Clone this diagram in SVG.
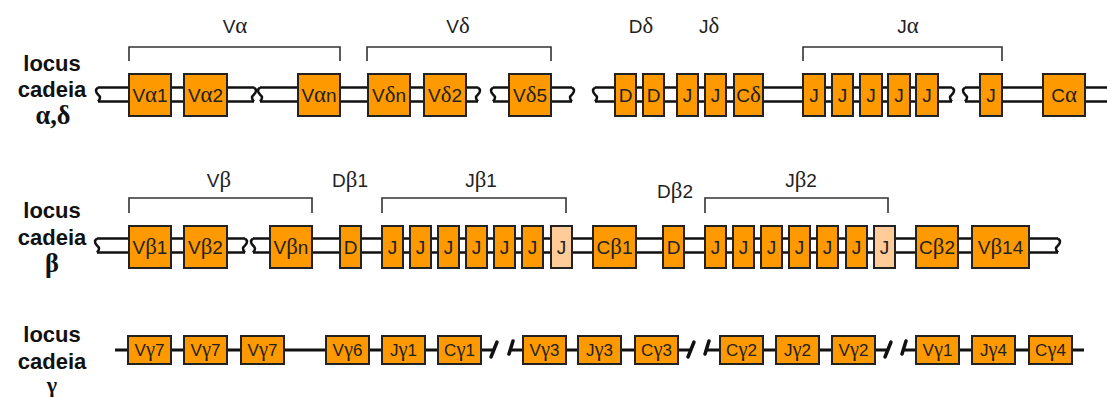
<svg xmlns="http://www.w3.org/2000/svg" width="1107" height="398" viewBox="0 0 1107 398">
  <style>
    .box { fill: #FF9900; stroke: #222; stroke-width: 2; }
    .lt { fill: #FFCC99; }
    .bt { font-family: "Liberation Sans", Arial, sans-serif; font-size: 19px; fill: #222; text-anchor: middle; }
    .st { font-family: "Liberation Sans", Arial, sans-serif; font-size: 17px; fill: #222; text-anchor: middle; }
    .g { font-family: "Liberation Serif", "Times New Roman", serif; font-size: 1.2em; }
    .gs { font-family: "Liberation Serif", "Times New Roman", serif; }
    .lab { font-family: "Liberation Sans", Arial, sans-serif; font-size: 19px; fill: #222; text-anchor: middle; }
    .side { font-family: "Liberation Sans", Arial, sans-serif; font-size: 22px; font-weight: bold; fill: #111; text-anchor: middle; }
    .dna { stroke: #111; stroke-width: 2.5; fill: none; }
    .sq { stroke: #111; stroke-width: 2.5; fill: none; stroke-linejoin: round; }
    .one { stroke: #111; stroke-width: 3; fill: none; }
    .cut { stroke: #111; stroke-width: 3.5; fill: none; stroke-linecap: round; }
    .brk { stroke: #333; stroke-width: 1.6; fill: none; }
  </style>

  <!-- side labels -->
  <g id="label-ad">
    <text class="side" x="52" y="71">locus</text>
    <text class="side" x="52" y="97">cadeia</text>
    <text class="side" x="53" y="124"><tspan class="g">α,δ</tspan></text>
  </g>
  <g id="label-b">
    <text class="side" x="52" y="218">locus</text>
    <text class="side" x="52" y="245">cadeia</text>
    <text class="side" x="52" y="272"><tspan class="g">β</tspan></text>
  </g>
  <g id="label-g">
    <text class="side" x="52" y="342">locus</text>
    <text class="side" x="52" y="369">cadeia</text>
    <text class="side" x="52" y="392"><tspan class="gs">γ</tspan></text>
  </g>

  <!-- segment group labels -->
  <g id="group-labels">
    <text class="lab" x="235" y="33">V<tspan class="g">α</tspan></text>
    <text class="lab" x="458" y="33">V<tspan class="g">δ</tspan></text>
    <text class="lab" x="641" y="33">D<tspan class="g">δ</tspan></text>
    <text class="lab" x="709" y="33">J<tspan class="g">δ</tspan></text>
    <text class="lab" x="908" y="33">J<tspan class="g">α</tspan></text>
    <text class="lab" x="219" y="187">V<tspan class="g">β</tspan></text>
    <text class="lab" x="350" y="187">D<tspan class="g">β</tspan>1</text>
    <text class="lab" x="481" y="187">J<tspan class="g">β</tspan>1</text>
    <text class="lab" x="675" y="198">D<tspan class="g">β</tspan>2</text>
    <text class="lab" x="801" y="187">J<tspan class="g">β</tspan>2</text>
  </g>

  <!-- connectors: DNA strands, breaks and brackets -->
  <g id="connectors">
    <!-- alpha/delta locus, double strand -->
    <path class="dna" d="M98,87.5 H254 M98,101.5 H254"/>
    <path class="sq" d="M98,87.5 q-4,3 0,7 q4,3 0,7"/>
    <path class="sq" d="M254,87.5 q4,3 0,7 q-4,3 0,7"/>
    <path class="dna" d="M260,87.5 H478 M260,101.5 H478"/>
    <path class="sq" d="M260,87.5 q-4,3 0,7 q4,3 0,7"/>
    <path class="sq" d="M478,87.5 q4,3 0,7 q-4,3 0,7"/>
    <path class="dna" d="M493,87.5 H572 M493,101.5 H572"/>
    <path class="sq" d="M493,87.5 q-4,3 0,7 q4,3 0,7"/>
    <path class="sq" d="M572,87.5 q4,3 0,7 q-4,3 0,7"/>
    <path class="dna" d="M595,87.5 H952 M595,101.5 H952"/>
    <path class="sq" d="M595,87.5 q-4,3 0,7 q4,3 0,7"/>
    <path class="sq" d="M952,87.5 q4,3 0,7 q-4,3 0,7"/>
    <path class="dna" d="M965,87.5 H1107 M965,101.5 H1107"/>
    <path class="sq" d="M965,87.5 q-4,3 0,7 q4,3 0,7"/>

    <!-- beta locus, double strand -->
    <path class="dna" d="M97,238.5 H245 M97,252.5 H245"/>
    <path class="sq" d="M97,238.5 q-4,3 0,7 q4,3 0,7"/>
    <path class="sq" d="M245,238.5 q4,3 0,7 q-4,3 0,7"/>
    <path class="dna" d="M253,238.5 H1058 M253,252.5 H1058"/>
    <path class="sq" d="M253,238.5 q-4,3 0,7 q4,3 0,7"/>
    <path class="sq" d="M1058,238.5 q4,3 0,7 q-4,3 0,7"/>

    <!-- gamma locus, single strand with cuts -->
    <path class="one" d="M115,350 H494"/>
    <path class="one" d="M510,350 H690"/>
    <path class="one" d="M706,350 H887"/>
    <path class="one" d="M903,350 H1084"/>
    <path class="cut" d="M491,357 L497,342"/>
    <path class="cut" d="M513,341 L509,354"/>
    <path class="cut" d="M688,357 L694,342"/>
    <path class="cut" d="M709,341 L705,354"/>
    <path class="cut" d="M885,357 L891,342"/>
    <path class="cut" d="M906,341 L902,354"/>

    <!-- brackets -->
    <path class="brk" d="M129,61 V47 H340 V61"/>
    <path class="brk" d="M367,61 V47 H551 V61"/>
    <path class="brk" d="M803,61 V47 H1002 V61"/>
    <path class="brk" d="M129,213 V198 H312 V213"/>
    <path class="brk" d="M382,213 V198 H566 V213"/>
    <path class="brk" d="M705,213 V198 H888 V213"/>
  </g>

  <!-- alpha/delta locus segments -->
  <g id="va1"><rect class="box" x="129" y="74" width="42" height="42"/><text class="bt" x="150" y="102">V<tspan class="g">α</tspan>1</text></g>
  <g id="va2"><rect class="box" x="184" y="74" width="43" height="42"/><text class="bt" x="205.5" y="102">V<tspan class="g">α</tspan>2</text></g>
  <g id="van"><rect class="box" x="298" y="74" width="42" height="42"/><text class="bt" x="319" y="102">V<tspan class="g">α</tspan>n</text></g>
  <g id="vdn"><rect class="box" x="368" y="74" width="42" height="42"/><text class="bt" x="389" y="102">V<tspan class="g">δ</tspan>n</text></g>
  <g id="vd2"><rect class="box" x="424" y="74" width="42" height="42"/><text class="bt" x="445" y="102">V<tspan class="g">δ</tspan>2</text></g>
  <g id="vd5"><rect class="box" x="509" y="74" width="42" height="42"/><text class="bt" x="530" y="102">V<tspan class="g">δ</tspan>5</text></g>
  <g id="dd1"><rect class="box" x="615" y="74" width="21" height="42"/><text class="bt" x="625.5" y="102">D</text></g>
  <g id="dd2"><rect class="box" x="643" y="74" width="21" height="42"/><text class="bt" x="653.5" y="102">D</text></g>
  <g id="jd1"><rect class="box" x="677" y="74" width="21" height="42"/><text class="bt" x="687.5" y="102">J</text></g>
  <g id="jd2"><rect class="box" x="705" y="74" width="21" height="42"/><text class="bt" x="715.5" y="102">J</text></g>
  <g id="cd"><rect class="box" x="734" y="74" width="29" height="42"/><text class="bt" x="748.5" y="102">C<tspan class="g">δ</tspan></text></g>
  <g id="ja1"><rect class="box" x="803" y="74" width="22" height="42"/><text class="bt" x="814" y="102">J</text></g>
  <g id="ja2"><rect class="box" x="832" y="74" width="21" height="42"/><text class="bt" x="842.5" y="102">J</text></g>
  <g id="ja3"><rect class="box" x="860" y="74" width="22" height="42"/><text class="bt" x="871" y="102">J</text></g>
  <g id="ja4"><rect class="box" x="888" y="74" width="22" height="42"/><text class="bt" x="899" y="102">J</text></g>
  <g id="ja5"><rect class="box" x="916" y="74" width="22" height="42"/><text class="bt" x="927" y="102">J</text></g>
  <g id="ja6"><rect class="box" x="980" y="74" width="22" height="42"/><text class="bt" x="991" y="102">J</text></g>
  <g id="ca"><rect class="box" x="1043" y="74" width="42" height="42"/><text class="bt" x="1064" y="102">C<tspan class="g">α</tspan></text></g>

  <!-- beta locus segments -->
  <g id="vb1"><rect class="box" x="129" y="226" width="42" height="42"/><text class="bt" x="150" y="254">V<tspan class="g">β</tspan>1</text></g>
  <g id="vb2"><rect class="box" x="184" y="226" width="43" height="42"/><text class="bt" x="205.5" y="254">V<tspan class="g">β</tspan>2</text></g>
  <g id="vbn"><rect class="box" x="270" y="226" width="42" height="42"/><text class="bt" x="291" y="254">V<tspan class="g">β</tspan>n</text></g>
  <g id="db1"><rect class="box" x="340" y="226" width="21" height="42"/><text class="bt" x="350.5" y="254">D</text></g>
  <g id="jb1-1"><rect class="box" x="382" y="226" width="21" height="42"/><text class="bt" x="392.5" y="254">J</text></g>
  <g id="jb1-2"><rect class="box" x="410" y="226" width="21" height="42"/><text class="bt" x="420.5" y="254">J</text></g>
  <g id="jb1-3"><rect class="box" x="438" y="226" width="21" height="42"/><text class="bt" x="448.5" y="254">J</text></g>
  <g id="jb1-4"><rect class="box" x="466" y="226" width="21" height="42"/><text class="bt" x="476.5" y="254">J</text></g>
  <g id="jb1-5"><rect class="box" x="494" y="226" width="21" height="42"/><text class="bt" x="504.5" y="254">J</text></g>
  <g id="jb1-6"><rect class="box" x="522" y="226" width="21" height="42"/><text class="bt" x="532.5" y="254">J</text></g>
  <g id="jb1-7"><rect class="box lt" x="551" y="226" width="21" height="42"/><text class="bt" x="561.5" y="254">J</text></g>
  <g id="cb1"><rect class="box" x="593" y="226" width="43" height="42"/><text class="bt" x="614.5" y="254">C<tspan class="g">β</tspan>1</text></g>
  <g id="db2"><rect class="box" x="663" y="226" width="21" height="42"/><text class="bt" x="673.5" y="254">D</text></g>
  <g id="jb2-1"><rect class="box" x="705" y="226" width="21" height="42"/><text class="bt" x="715.5" y="254">J</text></g>
  <g id="jb2-2"><rect class="box" x="733" y="226" width="21" height="42"/><text class="bt" x="743.5" y="254">J</text></g>
  <g id="jb2-3"><rect class="box" x="761" y="226" width="21" height="42"/><text class="bt" x="771.5" y="254">J</text></g>
  <g id="jb2-4"><rect class="box" x="789" y="226" width="21" height="42"/><text class="bt" x="799.5" y="254">J</text></g>
  <g id="jb2-5"><rect class="box" x="817" y="226" width="21" height="42"/><text class="bt" x="827.5" y="254">J</text></g>
  <g id="jb2-6"><rect class="box" x="846" y="226" width="21" height="42"/><text class="bt" x="856.5" y="254">J</text></g>
  <g id="jb2-7"><rect class="box lt" x="874" y="226" width="21" height="42"/><text class="bt" x="884.5" y="254">J</text></g>
  <g id="cb2"><rect class="box" x="916" y="226" width="42" height="42"/><text class="bt" x="937" y="254">C<tspan class="g">β</tspan>2</text></g>
  <g id="vb14"><rect class="box" x="972" y="226" width="57" height="42"/><text class="bt" x="1000.5" y="254">V<tspan class="g">β</tspan>14</text></g>

  <!-- gamma locus segments -->
  <g id="vg7a"><rect class="box" x="128" y="336" width="43" height="28"/><text class="st" x="149.5" y="356">V<tspan class="g">γ</tspan>7</text></g>
  <g id="vg7b"><rect class="box" x="184" y="336" width="43" height="28"/><text class="st" x="205.5" y="356">V<tspan class="g">γ</tspan>7</text></g>
  <g id="vg7c"><rect class="box" x="241" y="336" width="43" height="28"/><text class="st" x="262.5" y="356">V<tspan class="g">γ</tspan>7</text></g>
  <g id="vg6"><rect class="box" x="326" y="336" width="43" height="28"/><text class="st" x="347.5" y="356">V<tspan class="g">γ</tspan>6</text></g>
  <g id="jg1"><rect class="box" x="382" y="336" width="43" height="28"/><text class="st" x="403.5" y="356">J<tspan class="g">γ</tspan>1</text></g>
  <g id="cg1"><rect class="box" x="438" y="336" width="43" height="28"/><text class="st" x="459.5" y="356">C<tspan class="g">γ</tspan>1</text></g>
  <g id="vg3"><rect class="box" x="523" y="336" width="43" height="28"/><text class="st" x="544.5" y="356">V<tspan class="g">γ</tspan>3</text></g>
  <g id="jg3"><rect class="box" x="578" y="336" width="43" height="28"/><text class="st" x="599.5" y="356">J<tspan class="g">γ</tspan>3</text></g>
  <g id="cg3"><rect class="box" x="635" y="336" width="43" height="28"/><text class="st" x="656.5" y="356">C<tspan class="g">γ</tspan>3</text></g>
  <g id="cg2"><rect class="box" x="720" y="336" width="43" height="28"/><text class="st" x="741.5" y="356">C<tspan class="g">γ</tspan>2</text></g>
  <g id="jg2"><rect class="box" x="776" y="336" width="43" height="28"/><text class="st" x="797.5" y="356">J<tspan class="g">γ</tspan>2</text></g>
  <g id="vg2"><rect class="box" x="832" y="336" width="43" height="28"/><text class="st" x="853.5" y="356">V<tspan class="g">γ</tspan>2</text></g>
  <g id="vg1"><rect class="box" x="916" y="336" width="43" height="28"/><text class="st" x="937.5" y="356">V<tspan class="g">γ</tspan>1</text></g>
  <g id="jg4"><rect class="box" x="972" y="336" width="43" height="28"/><text class="st" x="993.5" y="356">J<tspan class="g">γ</tspan>4</text></g>
  <g id="cg4"><rect class="box" x="1029" y="336" width="43" height="28"/><text class="st" x="1050.5" y="356">C<tspan class="g">γ</tspan>4</text></g>
</svg>
